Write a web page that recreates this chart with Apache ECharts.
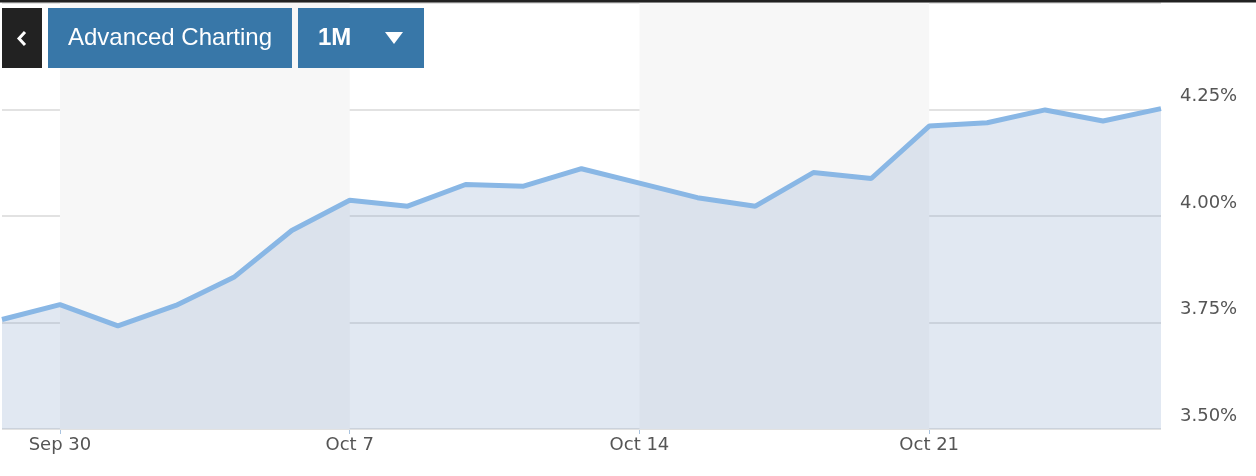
<!DOCTYPE html>
<html>
<head>
<meta charset="utf-8">
<script src="https://cdn.jsdelivr.net/npm/echarts@6/dist/echarts.min.js"></script>
<style>
html,body{margin:0;padding:0;background:#fff;}
#chart{width:1256px;height:476px;}
</style>
</head>
<body>
<div id="chart"></div>
<script>
var dates = ["Sep 27","Sep 30","Oct 1","Oct 2","Oct 3","Oct 4","Oct 7","Oct 8","Oct 9","Oct 10","Oct 11","Oct 14","Oct 15","Oct 16","Oct 17","Oct 18","Oct 21","Oct 22","Oct 23","Oct 24","Oct 25"];
var yields = [3.757,3.792,3.742,3.790,3.856,3.966,4.037,4.023,4.074,4.070,4.111,4.077,4.043,4.023,4.102,4.088,4.211,4.219,4.249,4.223,4.252];
var tickDates = ["Sep 30","Oct 7","Oct 14","Oct 21"];
var weekBands = [["Sep 30","Oct 7"],["Oct 14","Oct 21"]];
var yTicks = [3.50,3.75,4.00,4.25];

var chart = echarts.init(document.getElementById('chart'), null, {renderer:'canvas'});
var showTick = function(i){ return tickDates.indexOf(dates[i]) >= 0; };
var option = {
  animation:false,
  backgroundColor:'#ffffff',
  grid:{left:2,right:95,top:3,bottom:47},
  xAxis:{
    type:'category',
    data:dates,
    boundaryGap:false,
    axisLine:{show:false},
    axisTick:{show:true,interval:function(i){return showTick(i);},length:5,lineStyle:{color:'#a9c3df',width:1}},
    axisLabel:{interval:function(i){return showTick(i);},color:'#555555',fontFamily:'DejaVu Sans',fontSize:18,margin:7},
    splitLine:{show:false}
  },
  yAxis:{
    type:'value',
    position:'right',
    min:3.5,max:4.5,interval:0.25,
    z:1,
    axisLine:{show:false},
    axisTick:{show:false},
    axisLabel:{
      color:'#555555',fontFamily:'DejaVu Sans',fontSize:18,margin:19,verticalAlign:'bottom',lineHeight:26,
      formatter:function(v){
        for (var k=0;k<yTicks.length;k++){ if (Math.abs(yTicks[k]-v)<1e-6) return v.toFixed(2)+'%'; }
        return '';
      }
    },
    splitLine:{show:true,lineStyle:{color:'#e2e2e2',width:2}}
  },
  series:[
    {
      type:'line',
      data:[],
      z:0,
      silent:true,
      markArea:{
        silent:true,
        itemStyle:{color:'#f7f7f7'},
        data:weekBands.map(function(b){return [{xAxis:b[0]},{xAxis:b[1]}];})
      }
    },
    {
      type:'line',
      data:yields,
      z:2,
      symbol:'none',
      lineStyle:{color:'#89b7e5',width:5},
      areaStyle:{color:'rgb(135,163,203)',opacity:0.25}
    }
  ],
  graphic:[
    {type:'rect',shape:{x:0,y:0,width:1256,height:2.5},style:{fill:'#222222'},z:10},
    {type:'rect',shape:{x:2,y:8,width:40,height:60},style:{fill:'#222222'},z:10},
    {type:'polyline',shape:{points:[[25,32],[19,38.5],[25,45]]},style:{stroke:'#ffffff',lineWidth:3,fill:null},z:11},
    {type:'rect',shape:{x:48,y:8,width:244,height:60},style:{fill:'#3877a8'},z:10},
    {type:'text',x:170,y:38,style:{text:'Advanced Charting',fill:'#ffffff',font:'24px "Liberation Sans", Arial, sans-serif',textAlign:'center',textVerticalAlign:'middle'},z:11},
    {type:'rect',shape:{x:298,y:8,width:126,height:60},style:{fill:'#3877a8'},z:10},
    {type:'text',x:318,y:38,style:{text:'1M',fill:'#ffffff',font:'bold 24px "Liberation Sans", Arial, sans-serif',textAlign:'left',textVerticalAlign:'middle'},z:11},
    {type:'polygon',shape:{points:[[385,32],[403,32],[394,44]]},style:{fill:'#ffffff'},z:11}
  ]
};
chart.setOption(option);
</script>
</body>
</html>
